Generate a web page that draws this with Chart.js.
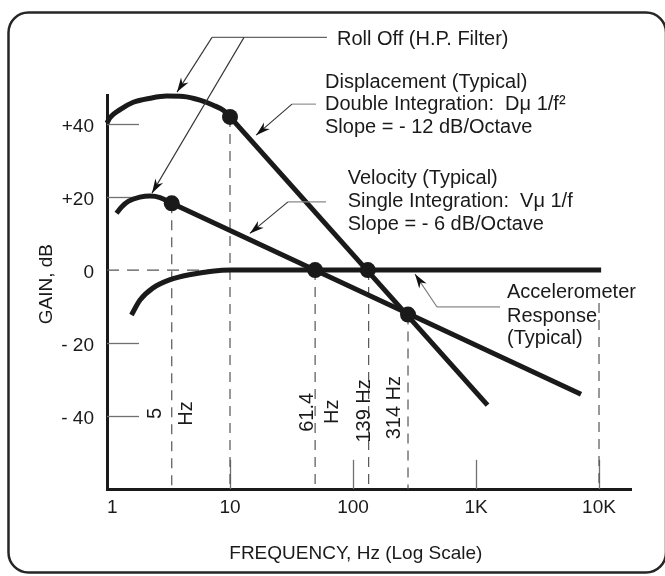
<!DOCTYPE html>
<html><head><meta charset="utf-8">
<script src="https://cdn.jsdelivr.net/npm/chart.js@4.4.1/dist/chart.umd.min.js"></script>
<style>html,body{margin:0;padding:0;background:#fff;}canvas{display:block;}</style>
</head><body>
<canvas id="c" width="665" height="576"></canvas>
<script>
// ---- axis ticks ----
const xTickValues = [1, 10, 100, 1000, 10000];
const xTickLabels = ['  1', '10', '100', '1K', '10K'];
const yTickValues = [40, 20, 0, -20, -40];
const yTickLabels = ['+40', '+20', '0', '- 20', '- 40'];

// ---- Displacement (Typical) ----
const dispArcFreq = [1.0, 1.057, 1.276, 1.636, 2.237, 3.058, 4.172, 5.70, 7.31, 8.82, 10];
const dispArcDb   = [40.3, 41.8, 44.0, 46.0, 47.1, 47.7, 47.6, 46.6, 45.2, 43.8, 42.0];
const dispSlopeFreq = [10, 1240];
const dispSlopeDb   = [42.0, -37.0];

// ---- Velocity (Typical) ----
const velArcFreq = [1.195, 1.32, 1.5, 1.85, 2.24, 2.7, 3.36];
const velArcDb   = [15.6, 17.4, 18.9, 20.0, 20.3, 19.9, 18.3];
const velSlopeFreq = [3.36, 7140];
const velSlopeDb   = [18.3, -34.0];

// ---- Accelerometer Response (Typical) ----
const accFreq = [1.58, 1.855, 2.34, 3.22, 4.79, 7.14, 10.2, 10400];
const accDb   = [-12.3, -8.2, -5.0, -2.7, -1.2, -0.3, 0, 0];

// ---- key points ----
const dotFreq = [3.36, 10, 49.2, 132, 280];
const dotDb   = [18.3, 42.0, 0, 0, -12.2];

// ---- dashed reference lines ----
const refFreq  = [3.36, 10, 49.2, 134, 280, 10000];
const refTopDb = [18.3, 42.0, 0, 0, -12.2, -9];
const refBottomDb = -60;
const zeroRefFreq = [1, 10];

// ---- texts ----
const rollOffText = ['Roll Off (H.P. Filter)'];
const dispText = ['Displacement (Typical)', 'Double Integration:  D\u03bc 1/f\u00b2', 'Slope = - 12 dB/Octave'];
const velText  = ['Velocity (Typical)', 'Single Integration:  V\u03bc 1/f', 'Slope = - 6 dB/Octave'];
const accText  = ['Accelerometer', 'Response', '(Typical)'];
const markerLabels = ['5', 'Hz', '61.4', 'Hz', '139 Hz', '314 Hz'];

const INK = '#1a1a1a';
const FONT = "'Liberation Sans', Arial, sans-serif";
Chart.defaults.font.family = FONT;

const xy = (fs, ds) => fs.map((f, i) => ({x: f, y: ds[i]}));
const curve = (fs, ds, smooth) => ({
  data: xy(fs, ds), showLine: true, pointRadius: 0, borderColor: INK, borderWidth: 5,
  borderCapStyle: 'butt', cubicInterpolationMode: smooth ? 'monotone' : 'default', tension: 0, clip: false
});

const datasets = [
  {data: xy(dotFreq, dotDb), showLine: false, pointRadius: 8, pointBackgroundColor: INK, pointBorderWidth: 0, clip: false},
  curve(dispArcFreq, dispArcDb, true),
  curve(dispSlopeFreq, dispSlopeDb, false),
  curve(velArcFreq, velArcDb, true),
  curve(velSlopeFreq, velSlopeDb, false),
  curve(accFreq, accDb, true),
  ...refFreq.map((f, i) => ({
    data: [{x: f, y: refTopDb[i]}, {x: f, y: refBottomDb}], showLine: true, pointRadius: 0,
    borderColor: '#555', borderWidth: 1.2, borderDash: [10, 7], clip: false
  })),
  {data: zeroRefFreq.map(f => ({x: f, y: 0})), showLine: true, pointRadius: 0,
   borderColor: '#555', borderWidth: 1.2, borderDash: [12, 8]}
];

// frame
const framePlugin = {
  id: 'frame',
  beforeDraw(chart) {
    const ctx = chart.ctx;
    ctx.save();
    ctx.fillStyle = '#fff';
    ctx.fillRect(0, 0, chart.width, chart.height);
    ctx.strokeStyle = '#262626'; ctx.lineWidth = 2.5;
    const x0 = 8.5, y0 = 12.5, x1 = 666, y1 = 572.5, r = 20;
    ctx.beginPath();
    ctx.moveTo(x0 + r, y0); ctx.lineTo(x1 - r, y0); ctx.arcTo(x1, y0, x1, y0 + r, r);
    ctx.lineTo(x1, y1 - r); ctx.arcTo(x1, y1, x1 - r, y1, r);
    ctx.lineTo(x0 + r, y1); ctx.arcTo(x0, y1, x0, y1 - r, r);
    ctx.lineTo(x0, y0 + r); ctx.arcTo(x0, y0, x0 + r, y0, r);
    ctx.closePath(); ctx.stroke();
    ctx.restore();
  }
};

// short tick marks inside the plot
const yTickMarkEndFreq = 1.82;
const xTickMarkTopDb = -52;
const tickPlugin = {
  id: 'tickMarks',
  beforeDatasetsDraw(chart) {
    const {ctx, scales: {x, y}} = chart;
    ctx.save();
    ctx.strokeStyle = '#707070'; ctx.lineWidth = 1.3;
    yTickValues.filter(v => v !== 0).forEach(v => {
      const py = Math.round(y.getPixelForValue(v)) + 0.5;
      ctx.beginPath(); ctx.moveTo(x.getPixelForValue(1), py); ctx.lineTo(x.getPixelForValue(yTickMarkEndFreq), py); ctx.stroke();
    });
    xTickValues.slice(1).forEach(v => {
      const px = Math.round(x.getPixelForValue(v)) + 0.5;
      ctx.beginPath(); ctx.moveTo(px, y.getPixelForValue(-60)); ctx.lineTo(px, y.getPixelForValue(xTickMarkTopDb)); ctx.stroke();
    });
    ctx.restore();
  }
};

// annotation geometry in data units (Hz, dB)
const leaders = [
  {pts: [[7.14, 63.8], [61.4, 63.8]], color: '#666', arrow: false},
  {pts: [[7.14, 63.8], [3.71, 48.8]], color: '#333', arrow: true},
  {pts: [[13.0, 63.8], [2.32, 21.1]], color: '#333', arrow: true},
  {pts: [[50.0, 45.5], [31.9, 45.5]], color: '#888', arrow: false},
  {pts: [[31.9, 45.5], [16.3, 37.0]], color: '#333', arrow: true},
  {pts: [[60.3, 18.7], [29.6, 18.7]], color: '#888', arrow: false},
  {pts: [[29.6, 18.7], [14.5, 10.05]], color: '#333', arrow: true},
  {pts: [[1567, -10.1], [482, -10.1]], color: '#aaa', arrow: false},
  {pts: [[482, -10.1], [319, -1.1]], color: '#777', arrow: true}
];
const textBlocks = [
  {lines: rollOffText, f: 74.1, db: [61.6]},
  {lines: dispText, f: 59.2, db: [50.05, 43.8, 37.6]},
  {lines: velText, f: 90.6, db: [23.6, 17.3, 11.0]},
  {lines: accText, f: 1786, db: [-7.7, -14.1, -20.3]}
];
// rotated labels: baseline frequency, centre dB
const markerLabelFreq = [2.75, 4.91, 47.3, 75.5, 137.4, 241];
const markerLabelDb = [-39.3, -39.3, -39.0, -38.8, -38.6, -37.7];

function arrowHead(ctx, x0, y0, x1, y1) {
  const a = Math.atan2(y1 - y0, x1 - x0);
  const L = 15, W = 0.3, N = 10;
  ctx.beginPath();
  ctx.moveTo(x1, y1);
  ctx.lineTo(x1 - L * Math.cos(a - W), y1 - L * Math.sin(a - W));
  ctx.lineTo(x1 - N * Math.cos(a), y1 - N * Math.sin(a));
  ctx.lineTo(x1 - L * Math.cos(a + W), y1 - L * Math.sin(a + W));
  ctx.closePath();
  ctx.fillStyle = '#111';
  ctx.fill();
}

const annotationPlugin = {
  id: 'annotations',
  afterDraw(chart) {
    const {ctx, scales: {x, y}} = chart;
    const P = (f, d) => [x.getPixelForValue(f), y.getPixelForValue(d)];
    ctx.save();
    leaders.forEach(l => {
      const p = l.pts.map(q => P(q[0], q[1]));
      ctx.strokeStyle = l.color; ctx.lineWidth = l.color === '#aaa' ? 1.8 : 1.1;
      ctx.beginPath(); ctx.moveTo(p[0][0], p[0][1]);
      for (let i = 1; i < p.length; i++) ctx.lineTo(p[i][0], p[i][1]);
      ctx.stroke();
      if (l.arrow) arrowHead(ctx, p[p.length - 2][0], p[p.length - 2][1], p[p.length - 1][0], p[p.length - 1][1]);
    });
    ctx.fillStyle = INK;
    ctx.font = '20px ' + FONT;
    ctx.textBaseline = 'alphabetic'; ctx.textAlign = 'left';
    textBlocks.forEach(b => {
      b.lines.forEach((t, i) => { const [px, py] = P(b.f, b.db[i]); ctx.fillText(t, px, py); });
    });
    ctx.textAlign = 'center';
    markerLabels.forEach((t, i) => {
      const [px, py] = P(markerLabelFreq[i], markerLabelDb[i]);
      ctx.save(); ctx.translate(px, py); ctx.rotate(-Math.PI / 2); ctx.fillText(t, 0, 0); ctx.restore();
    });
    ctx.restore();
  }
};

new Chart(document.getElementById('c'), {
  type: 'scatter',
  data: {datasets},
  options: {
    responsive: false, animation: false, devicePixelRatio: 1,
    layout: {padding: {left: 0, top: 95, right: 34, bottom: 0}},
    plugins: {legend: {display: false}, tooltip: {enabled: false}},
    scales: {
      x: {
        type: 'logarithmic', min: 1, max: 18200,
        afterBuildTicks: s => { s.ticks = xTickValues.map(v => ({value: v})); },
        afterFit: s => { s.height = 87; },
        grid: {display: false, drawTicks: false},
        border: {display: true, color: INK, width: 3},
        ticks: {autoSkip: false, maxRotation: 0, padding: 7, color: INK, font: {size: 19},
                callback: (v, i) => xTickLabels[i]},
        title: {display: true, text: 'FREQUENCY, Hz (Log Scale)     ', color: INK, font: {size: 19},
                padding: {top: 0, bottom: 10.6}}
      },
      y: {
        type: 'linear', min: -60, max: 48,
        afterBuildTicks: s => { s.ticks = yTickValues.map(v => ({value: v})); },
        afterFit: s => { s.width = 107; },
        grid: {display: false, drawTicks: false},
        border: {display: true, color: INK, width: 3},
        ticks: {padding: 13, labelOffset: 3, color: INK, font: {size: 19},
                callback: (v, i) => yTickLabels[i]},
        title: {display: true, text: '   GAIN, dB', color: INK, font: {size: 19},
                padding: {top: 35.6, bottom: 0}}
      }
    }
  },
  plugins: [framePlugin, tickPlugin, annotationPlugin]
});
</script>
</body></html>
